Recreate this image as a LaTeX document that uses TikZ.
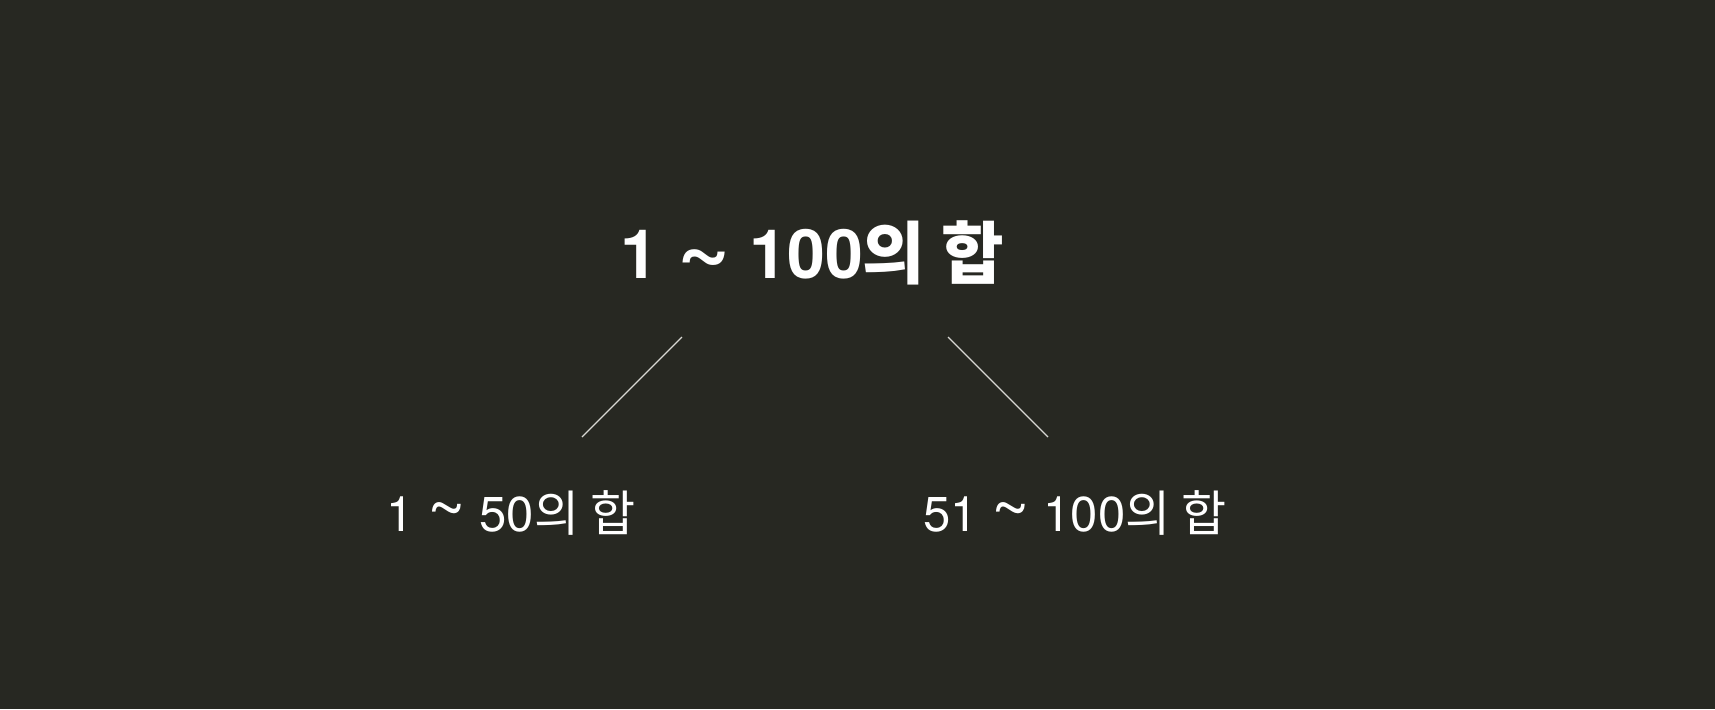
\documentclass[tikz,border=0pt]{standalone}
\usepackage{fontspec}
\setmainfont{TeX Gyre Heros}
\newfontfamily\cjk{Noto Sans CJK KR}
\definecolor{bgdark}{HTML}{272822}
\definecolor{linegray}{HTML}{D8D8D4}
\newcommand{\wave}{\scalebox{1.35}{\textasciitilde}}
\begin{document}
\begin{tikzpicture}
        [%%%%%%%%%%%%%%%%%%%%%%%%%%%%%%
            x=0.5pt,y=-0.5pt,
            sumtop/.style={text=white,anchor=base,inner sep=0pt,font=\fontsize{34}{40}\selectfont\bfseries},
            sumsub/.style={text=white,anchor=base,inner sep=0pt,font=\fontsize{24.5}{29}\selectfont},
            branch/.style={draw=linegray,line width=0.6pt},
        ]%%%%%%%%%%%%%%%%%%%%%%%%%%%%%%

        \fill[bgdark] (0,0) rectangle (1715,709);
        \useasboundingbox (0,0) rectangle (1715,709);

        \node[sumtop] (root) at (812,278){1 \wave{} 100{\cjk 의 합}};
        \node[sumsub] (left) at (511,531){1 \wave{} 50{\cjk 의 합}};
        \node[sumsub] (right) at (1075,531){51 \wave{} 100{\cjk 의 합}};

        \coordinate (lt) at (682,337);
        \coordinate (lb) at (582,437);
        \coordinate (rt) at (948,337);
        \coordinate (rb) at (1048,437);

        \draw[branch] (lt) -- (lb);
        \draw[branch] (rt) -- (rb);
    \end{tikzpicture}
\end{document}
